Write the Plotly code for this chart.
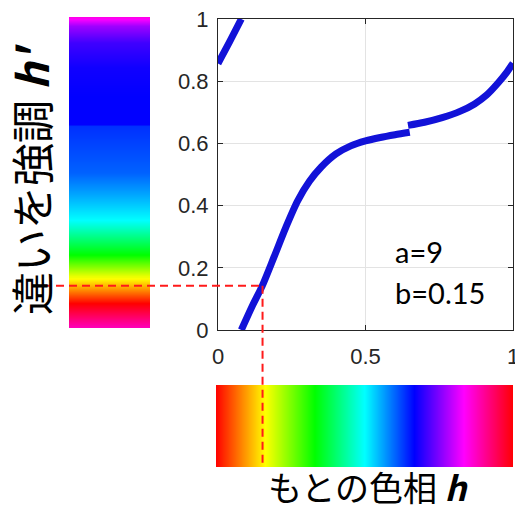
import numpy as np
import plotly.graph_objects as go

# ---- data: mapped hue h' as a function of original hue h (three wrapped branches)
seg1_h = [0.0, 0.04, 0.079]
seg1_hp = [0.857, 0.928, 1.0]
seg2_h = [0.079, 0.115, 0.15, 0.19, 0.23, 0.27, 0.31, 0.35, 0.40, 0.45, 0.50, 0.55, 0.60, 0.650]
seg2_hp = [0.0, 0.075, 0.142, 0.235, 0.33, 0.415, 0.478, 0.524, 0.566, 0.592, 0.608, 0.619, 0.628, 0.636]
seg3_h = [0.644, 0.70, 0.76, 0.82, 0.87, 0.91, 0.95, 0.98, 1.0]
seg3_hp = [0.658, 0.668, 0.683, 0.703, 0.727, 0.755, 0.795, 0.83, 0.858]

# guide point
marker_h = 0.151
marker_hp = 0.142

# ticks
x_ticks = [0, 0.5, 1]
x_tick_labels = ["0", "0.5", "1"]
y_ticks = [0, 0.2, 0.4, 0.6, 0.8, 1]
y_tick_labels = ["0", "0.2", "0.4", "0.6", "0.8", "1"]

# vertical colour bar: original hue shown at each h' level
vbar_hp = [0.0, 0.08, 0.16, 0.235, 0.347, 0.434, 0.5, 0.650, 0.653, 0.74, 0.836, 0.916, 0.97, 1.0]
vbar_hue = [0.875, 1.0, 1.167, 1.333, 1.5, 1.561, 1.603, 1.636, 1.667, 1.667, 1.677, 1.708, 1.771, 1.853]

param_a = 9
param_b = 0.15

# ---- layout geometry (pixels -> paper)
W, H = 515, 510
def px(x):
    return x / W
def py(y):
    return 1 - y / H

main_x = [px(218), px(513)]
main_y = [py(330), py(19)]
vbar_x = [px(69), px(150)]
vbar_y = [py(328), py(17)]
hbar_x = [px(216), px(513)]
hbar_y = [py(467), py(385)]

hsv_scale = [[0, "#ff0000"], [1/6, "#ffff00"], [2/6, "#00ff00"], [3/6, "#00ffff"],
             [4/6, "#0000ff"], [5/6, "#ff00ff"], [1, "#ff0000"]]

fig = go.Figure()

# curve
cx = seg1_h + [None] + seg2_h + [None] + seg3_h
cy = seg1_hp + [None] + seg2_hp + [None] + seg3_hp
fig.add_trace(go.Scatter(x=cx, y=cy, mode="lines", connectgaps=False,
                         line=dict(color="#1212d8", width=7, shape="spline", smoothing=0.8),
                         hoverinfo="skip", showlegend=False, xaxis="x", yaxis="y"))

# vertical colour bar
ramp_v = np.linspace(0, 1, 621)
hue_v = np.mod(np.interp(ramp_v, vbar_hp, vbar_hue), 1.0)
fig.add_trace(go.Heatmap(z=[[h] for h in hue_v], y=ramp_v, x=[0],
                         colorscale=hsv_scale, zmin=0, zmax=1, showscale=False,
                         hoverinfo="skip", xaxis="x2", yaxis="y2"))

# horizontal colour bar
ramp_h = np.linspace(0, 1, 595)
fig.add_trace(go.Heatmap(z=[list(ramp_h)], x=ramp_h, y=[0],
                         colorscale=hsv_scale, zmin=0, zmax=1, showscale=False,
                         hoverinfo="skip", xaxis="x3", yaxis="y3"))

tick_font = dict(family="Liberation Sans, Arial, sans-serif", size=22, color="#262626")
axis_common = dict(showline=True, linecolor="#262626", linewidth=1.2, mirror="ticks",
                   ticks="inside", ticklen=5, tickcolor="#262626",
                   showgrid=True, gridcolor="#e3e3e3", gridwidth=1,
                   zeroline=False, tickfont=tick_font, ticklabeloverflow="allow",
                   automargin=False)
hidden = dict(visible=False, automargin=False)

fig.update_layout(
    width=W, height=H, margin=dict(l=0, r=0, t=0, b=0, autoexpand=False),
    paper_bgcolor="white", plot_bgcolor="white",
    xaxis=dict(domain=main_x, range=[0, 1], tickvals=x_ticks, ticktext=x_tick_labels,
               ticklabelstandoff=6, **axis_common),
    yaxis=dict(domain=main_y, range=[0, 1], tickvals=y_ticks, ticktext=y_tick_labels,
               ticklabelstandoff=4, **axis_common),
    xaxis2=dict(domain=vbar_x, range=[-0.5, 0.5], **hidden),
    yaxis2=dict(domain=vbar_y, range=[0, 1], **hidden),
    xaxis3=dict(domain=hbar_x, range=[0, 1], **hidden),
    yaxis3=dict(domain=hbar_y, range=[-0.5, 0.5], **hidden),
)

# red dashed guides
hx_end = main_x[0] + marker_h * (main_x[1] - main_x[0])
vy_start = main_y[0] + marker_hp * (main_y[1] - main_y[0])
dash_line = dict(color="#ff1a1a", width=2, dash="8px,5px")
fig.add_shape(type="line", xref="paper", yref="y", x0=px(43), x1=hx_end,
              y0=marker_hp, y1=marker_hp, line=dash_line, layer="above")
fig.add_shape(type="line", xref="x", yref="paper", x0=marker_h, x1=marker_h,
              y0=vy_start, y1=py(465), line=dash_line, layer="above")

# parameter text
txt_font = dict(family="Lato, Open Sans, sans-serif", size=29, color="black")
fig.add_annotation(text=f"a={param_a}", xref="paper", yref="paper", x=px(393), y=py(251),
                   xanchor="left", yanchor="middle", showarrow=False, font=txt_font)
fig.add_annotation(text=f"b={param_b}", xref="paper", yref="paper", x=px(393), y=py(292),
                   xanchor="left", yanchor="middle", showarrow=False, font=txt_font)

# axis titles
fig.add_annotation(text="違いを強調 <b><i>h'</i></b>", xref="paper", yref="paper",
                   x=px(30), y=py(180), textangle=-90, showarrow=False,
                   xanchor="center", yanchor="middle",
                   font=dict(family="Noto Sans CJK JP", size=43, color="black"))
fig.add_annotation(text="もとの色相 <b><i>h</i></b>", xref="paper", yref="paper",
                   x=px(368), y=py(486), showarrow=False,
                   xanchor="center", yanchor="middle",
                   font=dict(family="Noto Sans CJK JP", size=34, color="black"))

fig.write_html("out.html")
